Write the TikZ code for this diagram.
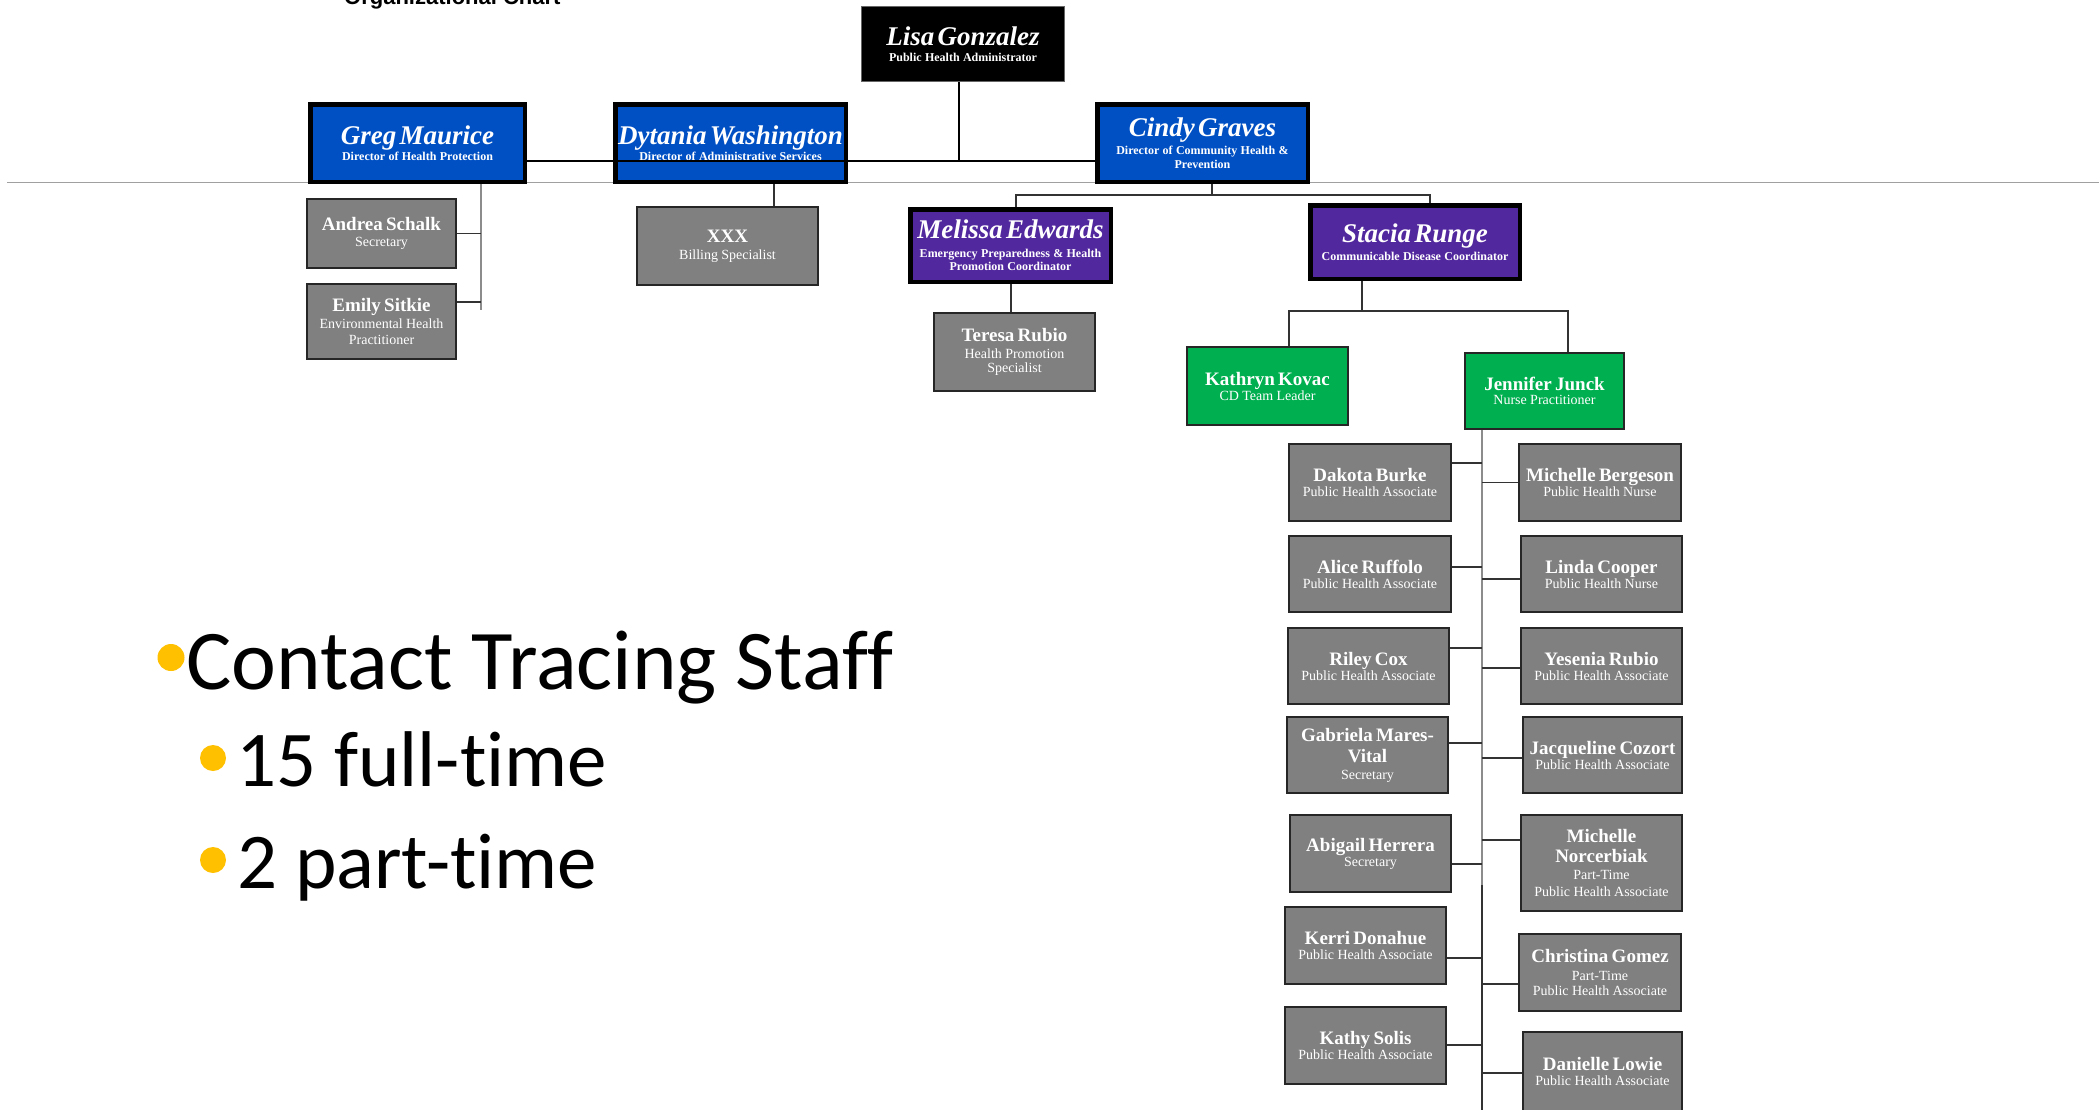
\documentclass[tikz,border=0pt]{standalone}
\usepackage{fontspec}
\setmainfont{Liberation Serif}
\newfontfamily\calibrif[Ligatures={NoCommon}]{Carlito}
\newfontfamily\arialf{Liberation Sans}
\definecolor{dirblue}{RGB}{0,80,196}
\definecolor{coordpurple}{RGB}{82,40,158}
\definecolor{leadgreen}{RGB}{0,176,80}
\definecolor{staffgrey}{RGB}{128,128,128}
\definecolor{rulegrey}{RGB}{160,160,160}
\definecolor{bulletgold}{RGB}{255,192,0}
\newcommand\nameD[1]{\fontsize{27}{27}\selectfont\bfseries\itshape #1\par}
\newcommand\subD[2][16]{\fontsize{12}{#1}\selectfont\bfseries\upshape #2\par}
\newcommand\nameS[2][19]{\fontsize{19}{#1}\selectfont\bfseries #2\par}
\newcommand\subS[2][15]{\fontsize{14}{#1}\selectfont\mdseries #2\par}
\begin{document}
\begin{tikzpicture}[x=1pt,y=-1pt,
  box/.style={rectangle, inner sep=0pt, text=white, align=center},
  topbox/.style={box, fill=black, draw=black!60, line width=1pt},
  dirbox/.style={box, fill=dirblue, draw=black, line width=4.5pt},
  coordbox/.style={box, fill=coordpurple, draw=black, line width=4.5pt},
  leadbox/.style={box, fill=leadgreen, draw=black!85, line width=1.8pt, text width=158pt},
  staffbox/.style={box, fill=staffgrey, draw=black!85, line width=1.8pt, text width=158pt},
  conn/.style={line width=2.2pt, black},
  conntwo/.style={line width=1.8pt, black!80},
  greyconn/.style={line width=2.8pt, black!45},
  bullet/.style={circle, fill=bulletgold, inner sep=0pt},
  bultext/.style={anchor=base west, inner sep=0pt, text=black}
]
\useasboundingbox (0,0) rectangle (2099,1109);
\fill[white] (0,0) rectangle (2099,1109);
\draw[rulegrey, line width=1.5pt] (7,182.5) -- (2099,182.5);

\node[anchor=base west, inner sep=0pt, font=\arialf\bfseries\fontsize{22}{22}\selectfont] (title) at (344,4) {Organizational Chart};

% top levels
\node[topbox, minimum width=203pt, minimum height=75pt, text width=195pt] (lisa) at (963,44)
  {\nameD{Lisa Gonzalez}\subD{Public Health Administrator}};
\node[dirbox, minimum width=214.5pt, minimum height=77.5pt, text width=205pt] (greg) at (417.5,143)
  {\nameD{Greg Maurice}\subD{Director of Health Protection}};
\node[dirbox, minimum width=230.5pt, minimum height=77.5pt, text width=228pt] (dytania) at (730.5,143)
  {\nameD{Dytania Washington}\subD{Director of Administrative Services}};
\node[dirbox, minimum width=210.5pt, minimum height=77.5pt, text width=205pt] (cindy) at (1202.5,143)
  {\nameD{Cindy Graves}\subD[18]{Director of Community Health \&}\subD[14]{Prevention}};

% second level
\node[staffbox, minimum width=149.2pt, minimum height=69.2pt, text width=145pt] (andrea) at (381.5,233.5)
  {\nameS{Andrea Schalk}\subS[16]{Secretary}};
\node[staffbox, minimum width=149.2pt, minimum height=75.2pt, text width=145pt] (emily) at (381.5,321.5)
  {\nameS{Emily Sitkie}\subS[17]{Environmental Health}\subS[16]{Practitioner}};
\node[staffbox, minimum width=181.2pt, minimum height=78.2pt, text width=175pt] (xxx) at (727.5,246)
  {\nameS{XXX}\subS[17]{Billing Specialist}};
\node[coordbox, minimum width=200.5pt, minimum height=72.5pt, text width=196pt] (melissa) at (1010.5,245.5)
  {\nameD{Melissa Edwards}\subD[19]{Emergency Preparedness \& Health}\subD[13]{Promotion Coordinator}};
\node[staffbox, minimum width=161.2pt, minimum height=78.2pt] (teresa) at (1014.5,352)
  {\nameS{Teresa Rubio}\subS[17]{Health Promotion}\subS[14]{Specialist}};
\node[coordbox, minimum width=209.5pt, minimum height=73.5pt, text width=205pt] (stacia) at (1415,242)
  {\nameD{Stacia Runge}\subD[18]{Communicable Disease Coordinator}};
\node[leadbox, minimum width=161.2pt, minimum height=78.2pt] (kathryn) at (1267.5,386)
  {\nameS{Kathryn Kovac}\subS{CD Team Leader}};
\node[leadbox, minimum width=159.2pt, minimum height=76.2pt] (jennifer) at (1544.5,391)
  {\nameS{Jennifer Junck}\subS[14]{Nurse Practitioner}};

% staff, left column
\node[staffbox, minimum width=162.2pt, minimum height=77.2pt] (dakota) at (1370,482.5)
  {\nameS{Dakota Burke}\subS{Public Health Associate}};
\node[staffbox, minimum width=162.2pt, minimum height=76.2pt] (alice) at (1370,574)
  {\nameS{Alice Ruffolo}\subS{Public Health Associate}};
\node[staffbox, minimum width=161.2pt, minimum height=76.2pt] (riley) at (1368.5,666)
  {\nameS{Riley Cox}\subS{Public Health Associate}};
\node[staffbox, minimum width=161.2pt, minimum height=76.2pt] (gabriela) at (1367.5,755)
  {\nameS{Gabriela Mares-}\nameS[21]{Vital}\subS[17]{Secretary}};
\node[staffbox, minimum width=161.2pt, minimum height=77.2pt] (abigail) at (1370.5,853.5)
  {\nameS{Abigail Herrera}\subS{Secretary}};
\node[staffbox, minimum width=161.2pt, minimum height=77.2pt] (kerri) at (1365.5,945.5)
  {\nameS{Kerri Donahue}\subS{Public Health Associate}};
\node[staffbox, minimum width=161.2pt, minimum height=77.2pt] (kathy) at (1365.5,1045.5)
  {\nameS{Kathy Solis}\subS{Public Health Associate}};

% staff, right column
\node[staffbox, minimum width=162.2pt, minimum height=77.2pt] (mbergeson) at (1600,482.5)
  {\nameS{Michelle Bergeson}\subS{Public Health Nurse}};
\node[staffbox, minimum width=161.2pt, minimum height=76.2pt] (linda) at (1601.5,574)
  {\nameS{Linda Cooper}\subS{Public Health Nurse}};
\node[staffbox, minimum width=161.2pt, minimum height=76.2pt] (yesenia) at (1601.5,666)
  {\nameS{Yesenia Rubio}\subS{Public Health Associate}};
\node[staffbox, minimum width=159.2pt, minimum height=76.2pt] (jacqueline) at (1602.5,755)
  {\nameS{Jacqueline Cozort}\subS{Public Health Associate}};
\node[staffbox, minimum width=161.2pt, minimum height=96.2pt] (norcerbiak) at (1601.5,863)
  {\nameS{Michelle}\nameS[20]{Norcerbiak}\subS[17]{Part-Time}\subS[17]{Public Health Associate}};
\node[staffbox, minimum width=162.2pt, minimum height=77.2pt] (christina) at (1600,972.5)
  {\nameS{Christina Gomez}\subS[18]{Part-Time}\subS{Public Health Associate}};
\node[staffbox, minimum width=159.2pt, minimum height=79.2pt] (danielle) at (1602.5,1071.5)
  {\nameS{Danielle Lowie}\subS{Public Health Associate}};

% connectors, top
\coordinate (j1) at (959,161);
\draw[conn] ([yshift=-18pt]greg.east) -- ([yshift=-18pt]cindy.west);
\draw[conn] (lisa.south -| j1) -- (j1);

\coordinate (gEnd) at (481,310);
\draw[greyconn] (greg.south -| gEnd) -- (gEnd);
\draw[conntwo] (andrea.east) -- (andrea.east -| gEnd);
\draw[conntwo] ([yshift=19.5pt]emily.east) -- ([yshift=19.5pt]emily.east -| gEnd);

\coordinate (dx) at (774,0);
\draw[conntwo] (dytania.south -| dx) -- (xxx.north -| dx);

\coordinate (cb) at (1212,195);
\coordinate (mx) at (1016,0);
\coordinate (sx) at (1430,0);
\draw[conntwo] (cindy.south -| cb) -- (cb);
\draw[conntwo] (melissa.north -| mx) |- (cb) -| (stacia.north -| sx);

\coordinate (tx) at (1011,0);
\draw[conntwo] (melissa.south -| tx) -- (teresa.north -| tx);

\coordinate (sb) at (1362,311);
\coordinate (kx) at (1289,0);
\coordinate (jx) at (1568,0);
\draw[conntwo] (stacia.south -| sb) -- (sb);
\draw[conntwo] (kathryn.north -| kx) |- (sb) -| (jennifer.north -| jx);

% spine
\coordinate (spmid) at (1482,885);
\coordinate (sp) at (1482,1112);
\draw[greyconn] (jennifer.south -| spmid) -- (spmid);
\draw[conntwo] (spmid) -- (sp);

% left ticks
\draw[conntwo] ([yshift=19.5pt]dakota.east) -- ([yshift=19.5pt]dakota.east -| sp);
\draw[conntwo] ([yshift=7pt]alice.east) -- ([yshift=7pt]alice.east -| sp);
\draw[conntwo] ([yshift=18pt]riley.east) -- ([yshift=18pt]riley.east -| sp);
\draw[conntwo] ([yshift=12pt]gabriela.east) -- ([yshift=12pt]gabriela.east -| sp);
\draw[conntwo] ([yshift=-10.5pt]abigail.east) -- ([yshift=-10.5pt]abigail.east -| sp);
\draw[conntwo] ([yshift=-12.5pt]kerri.east) -- ([yshift=-12.5pt]kerri.east -| sp);
\draw[conntwo] ([yshift=0.5pt]kathy.east) -- ([yshift=0.5pt]kathy.east -| sp);
% right ticks
\draw[conntwo] (mbergeson.west -| sp) -- (mbergeson.west);
\draw[conntwo] ([yshift=-5pt]linda.west -| sp) -- ([yshift=-5pt]linda.west);
\draw[conntwo] ([yshift=-2pt]yesenia.west -| sp) -- ([yshift=-2pt]yesenia.west);
\draw[conntwo] ([yshift=-3pt]jacqueline.west -| sp) -- ([yshift=-3pt]jacqueline.west);
\draw[conntwo] ([yshift=23pt]norcerbiak.west -| sp) -- ([yshift=23pt]norcerbiak.west);
\draw[conntwo] ([yshift=-11.5pt]christina.west -| sp) -- ([yshift=-11.5pt]christina.west);
\draw[conntwo] ([yshift=-1.5pt]danielle.west -| sp) -- ([yshift=-1.5pt]danielle.west);

% bullet list
\node[bullet, minimum size=27pt] (b1) at (171,657.5) {};
\node[bultext, font=\calibrif\fontsize{85}{85}\selectfont] (t1) at (186,689) {Contact Tracing Staff};
\node[bullet, minimum size=26pt] (b2) at (213,758) {};
\node[bultext, font=\calibrif\fontsize{79}{79}\selectfont] (t2) at (236,786) {15 full-time};
\node[bullet, minimum size=26pt] (b3) at (213,860) {};
\node[bultext, font=\calibrif\fontsize{79}{79}\selectfont] (t3) at (237,888) {2 part-time};
\end{tikzpicture}
\end{document}
